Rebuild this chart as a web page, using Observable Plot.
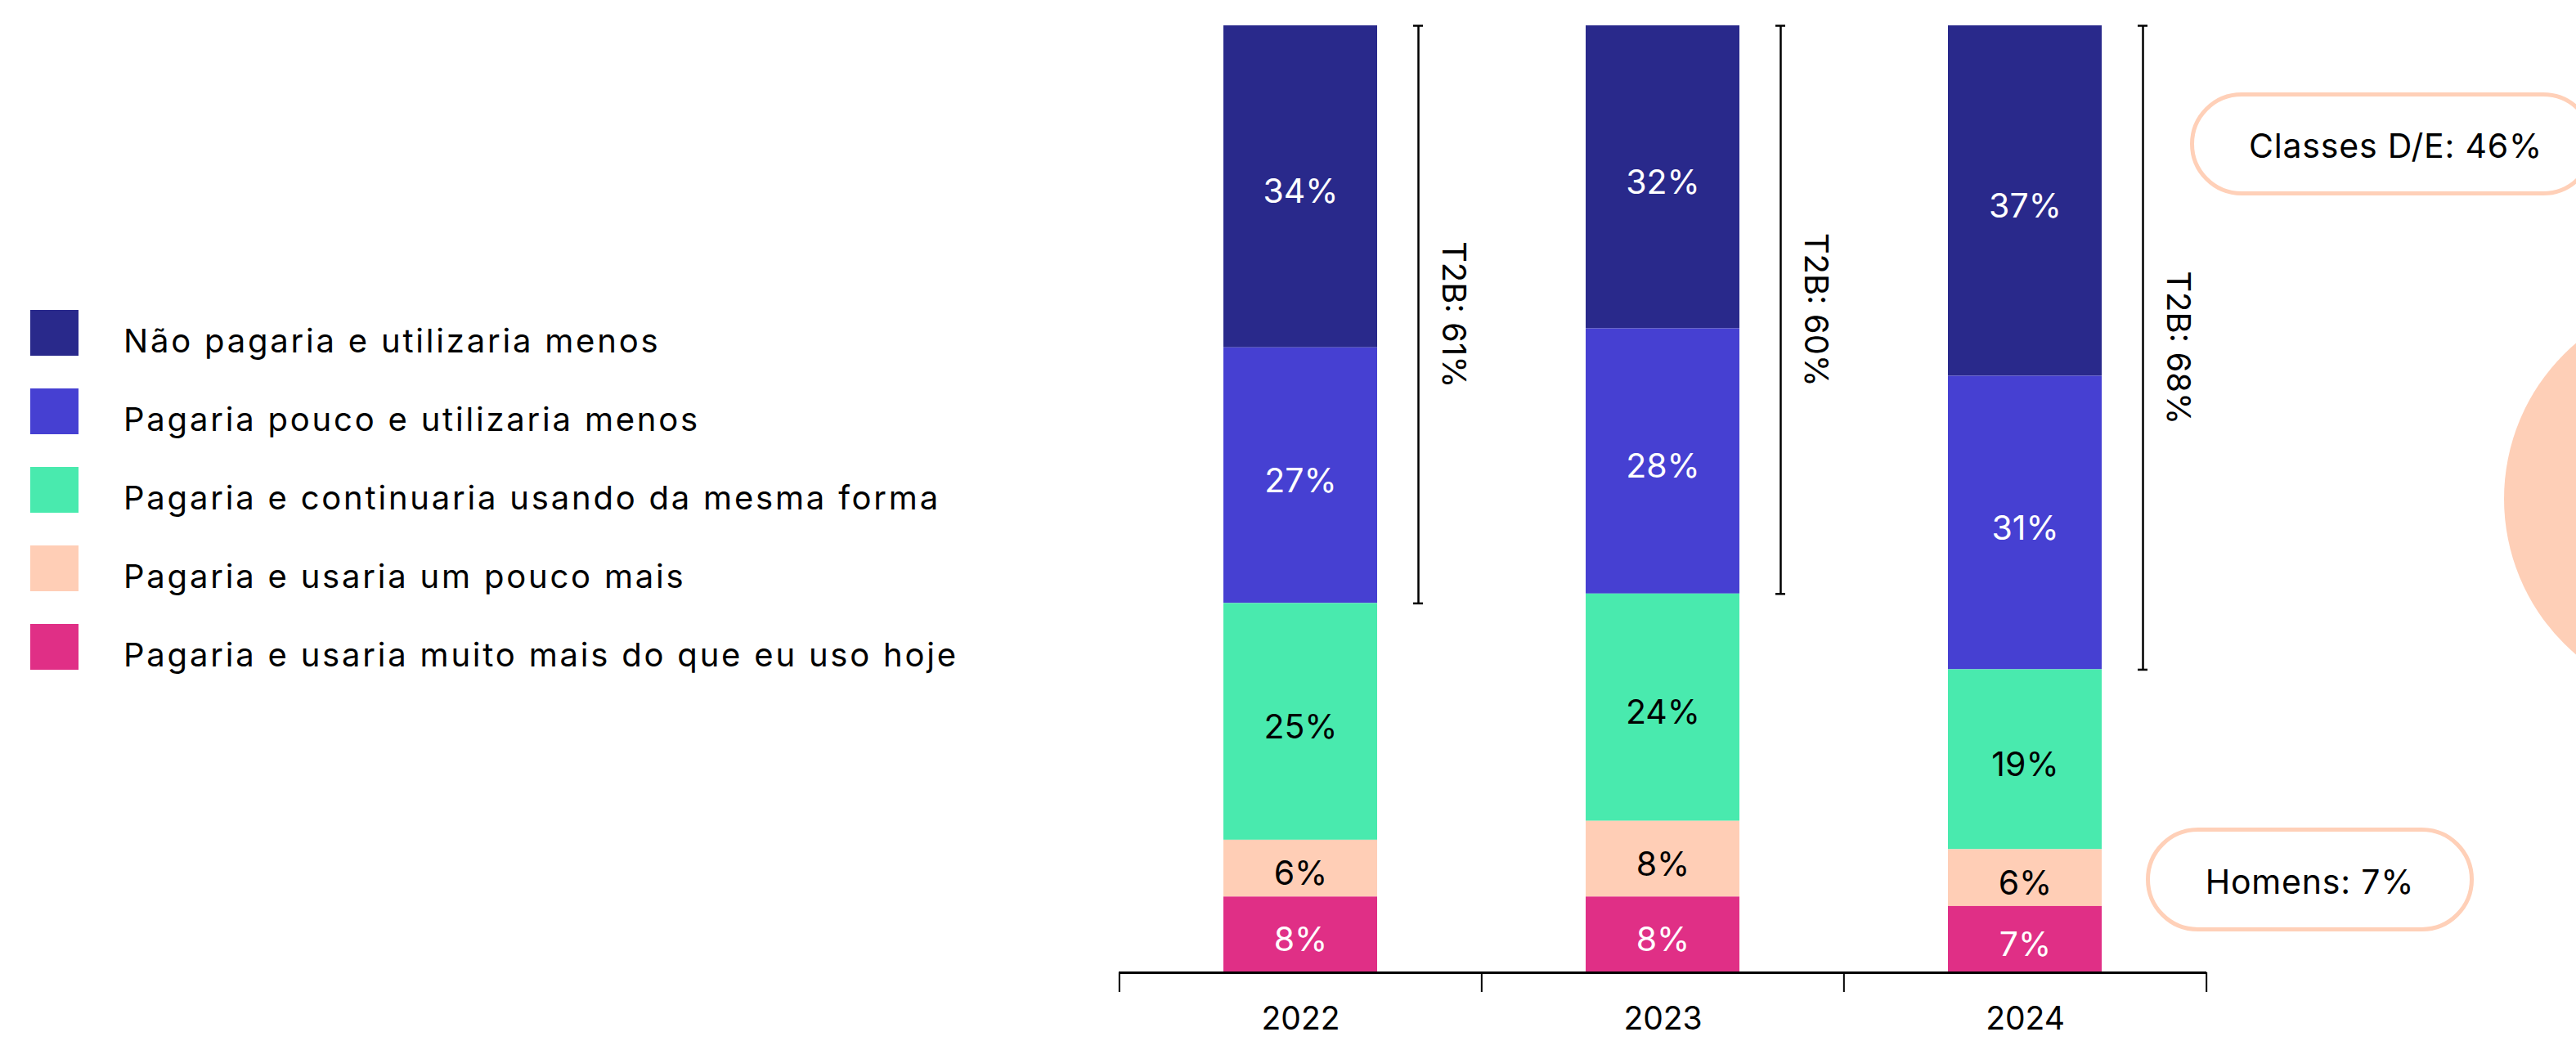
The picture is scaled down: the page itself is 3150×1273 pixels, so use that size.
<!DOCTYPE html>
<html><head><meta charset="utf-8">
<script src="https://cdn.jsdelivr.net/npm/d3@7"></script>
<script src="https://cdn.jsdelivr.net/npm/@observablehq/plot@0.6"></script>
<style>
html,body{margin:0;padding:0;background:#fff;}
#wrap{position:relative;width:3150px;height:1273px;overflow:hidden;font-family:Inter,"Noto Sans",sans-serif;}
#chart{position:absolute;left:0;top:0;}
.legend{position:absolute;left:37px;top:379px;}
.row{display:flex;align-items:center;height:56px;margin-bottom:40px;}
.sw{width:59px;height:56px;margin-right:55px;flex:none;}
.lt{font-size:40px;letter-spacing:2.8px;color:#000;padding-top:18px;white-space:nowrap;}
.pill{position:absolute;border:5px solid #FFD0B8;border-radius:64px;box-sizing:border-box;display:flex;align-items:center;font-size:41px;letter-spacing:0.8px;color:#000;white-space:nowrap;background:#fff;padding-top:4px;}
.circle{position:absolute;background:#FECFB7;border-radius:50%;}
</style></head><body>
<div id="wrap"></div>
<script>
// ---- data ----
const years = ["2022", "2023", "2024"];
const categories = [
  "Não pagaria e utilizaria menos",
  "Pagaria pouco e utilizaria menos",
  "Pagaria e continuaria usando da mesma forma",
  "Pagaria e usaria um pouco mais",
  "Pagaria e usaria muito mais do que eu uso hoje"
];
const colors = ["#29298B", "#4640D2", "#49EAAE", "#FFCEB6", "#E02F86"];
const labelColors = ["#ffffff", "#ffffff", "#000000", "#000000", "#ffffff"];
const naoPagaria = [34, 32, 37];
const pagariaPouco = [27, 28, 31];
const continuaria = [25, 24, 19];
const umPoucoMais = [6, 8, 6];
const muitoMais = [8, 8, 7];
const t2b = [61, 60, 68];
const callouts = ["Classes D/E: 46%", "Homens: 7%"];

// ---- build table ----
const series = [naoPagaria, pagariaPouco, continuaria, umPoucoMais, muitoMais];
const rows = [];
years.forEach((y, i) => categories.forEach((c, k) => rows.push({year: y, category: c, value: series[k][i]})));
const bottomUp = categories.slice().reverse();
const t2bRows = years.map((y, i) => ({year: y, t2b: t2b[i]}));
const colorOf = Object.fromEntries(categories.map((c, k) => [c, labelColors[k]]));

const W = 3150, H = 1273, mL = 1368, mR = 452, mT = 31, mB = 84;
const pIn = 0.576, pOut = 0.288;
const step = (W - mL - mR) / 3;
const bw = step * (1 - pIn);

const wrap = document.getElementById("wrap");

// decorative circle
const circ = document.createElement("div");
circ.className = "circle";
Object.assign(circ.style, {left: "3062px", top: "360px", width: "500px", height: "500px"});
wrap.appendChild(circ);

const chart = Plot.plot({
  width: W, height: H,
  marginLeft: mL, marginRight: mR, marginTop: mT, marginBottom: mB,
  style: {fontFamily: "Inter, 'Noto Sans', sans-serif", background: "transparent", overflow: "visible"},
  x: {type: "band", domain: years, paddingInner: pIn, paddingOuter: pOut, align: 0.5, label: null},
  y: {domain: [0, 100], axis: null},
  color: {domain: categories, range: colors},
  marks: [
    Plot.barY(rows, {x: "year", y: "value", fill: "category", order: bottomUp}),
    Plot.text(rows, Plot.stackY({
      x: "year", y: "value", z: "category", order: bottomUp,
      text: d => d.value + "%", fill: d => colorOf[d.category], fontSize: 41, dy: 7
    })),
    Plot.ruleX(t2bRows, {x: "year", y1: d => 100 - d.t2b, y2: d => 100, dx: 144, stroke: "#000", strokeWidth: 2.5}),
    Plot.tickY(t2bRows, {x: "year", y: d => 100, dx: 144, stroke: "#000", strokeWidth: 2.5, insetLeft: bw / 2 - 6, insetRight: bw / 2 - 6}),
    Plot.tickY(t2bRows, {x: "year", y: d => 100 - d.t2b, dx: 144, stroke: "#000", strokeWidth: 2.5, insetLeft: bw / 2 - 6, insetRight: bw / 2 - 6}),
    Plot.text(t2bRows, {x: "year", y: d => 100 - d.t2b / 2, text: d => `T2B: ${d.t2b}%`, rotate: 90, dx: 186, fontSize: 40, fill: "#000"}),
    Plot.ruleY([0], {stroke: "#000", strokeWidth: 3}),
    Plot.ruleX(years, {x: d => d, y1: d => 0, y2: d => 0, insetBottom: -24, dx: -step / 2, stroke: "#000", strokeWidth: 2}),
    Plot.ruleX(years.slice(-1), {x: d => d, y1: d => 0, y2: d => 0, insetBottom: -24, dx: step / 2, stroke: "#000", strokeWidth: 2}),
    Plot.axisX({tickSize: 0, tickPadding: 42, fontSize: 39, fill: "#000", label: null})
  ]
});
chart.id = "chart";
wrap.appendChild(chart);

// legend
const leg = document.createElement("div");
leg.className = "legend";
categories.forEach((c, k) => {
  const r = document.createElement("div");
  r.className = "row";
  const s = document.createElement("div");
  s.className = "sw";
  s.style.background = colors[k];
  const t = document.createElement("div");
  t.className = "lt";
  t.textContent = c;
  r.appendChild(s); r.appendChild(t);
  leg.appendChild(r);
});
wrap.appendChild(leg);

// callout pills
const p1 = document.createElement("div");
p1.className = "pill";
Object.assign(p1.style, {left: "2678px", top: "113px", width: "495px", height: "126px", paddingLeft: "67px"});
p1.textContent = callouts[0];
wrap.appendChild(p1);
const p2 = document.createElement("div");
p2.className = "pill";
Object.assign(p2.style, {left: "2624px", top: "1012px", width: "401px", height: "127px", justifyContent: "center"});
p2.textContent = callouts[1];
wrap.appendChild(p2);
</script>
</body></html>
